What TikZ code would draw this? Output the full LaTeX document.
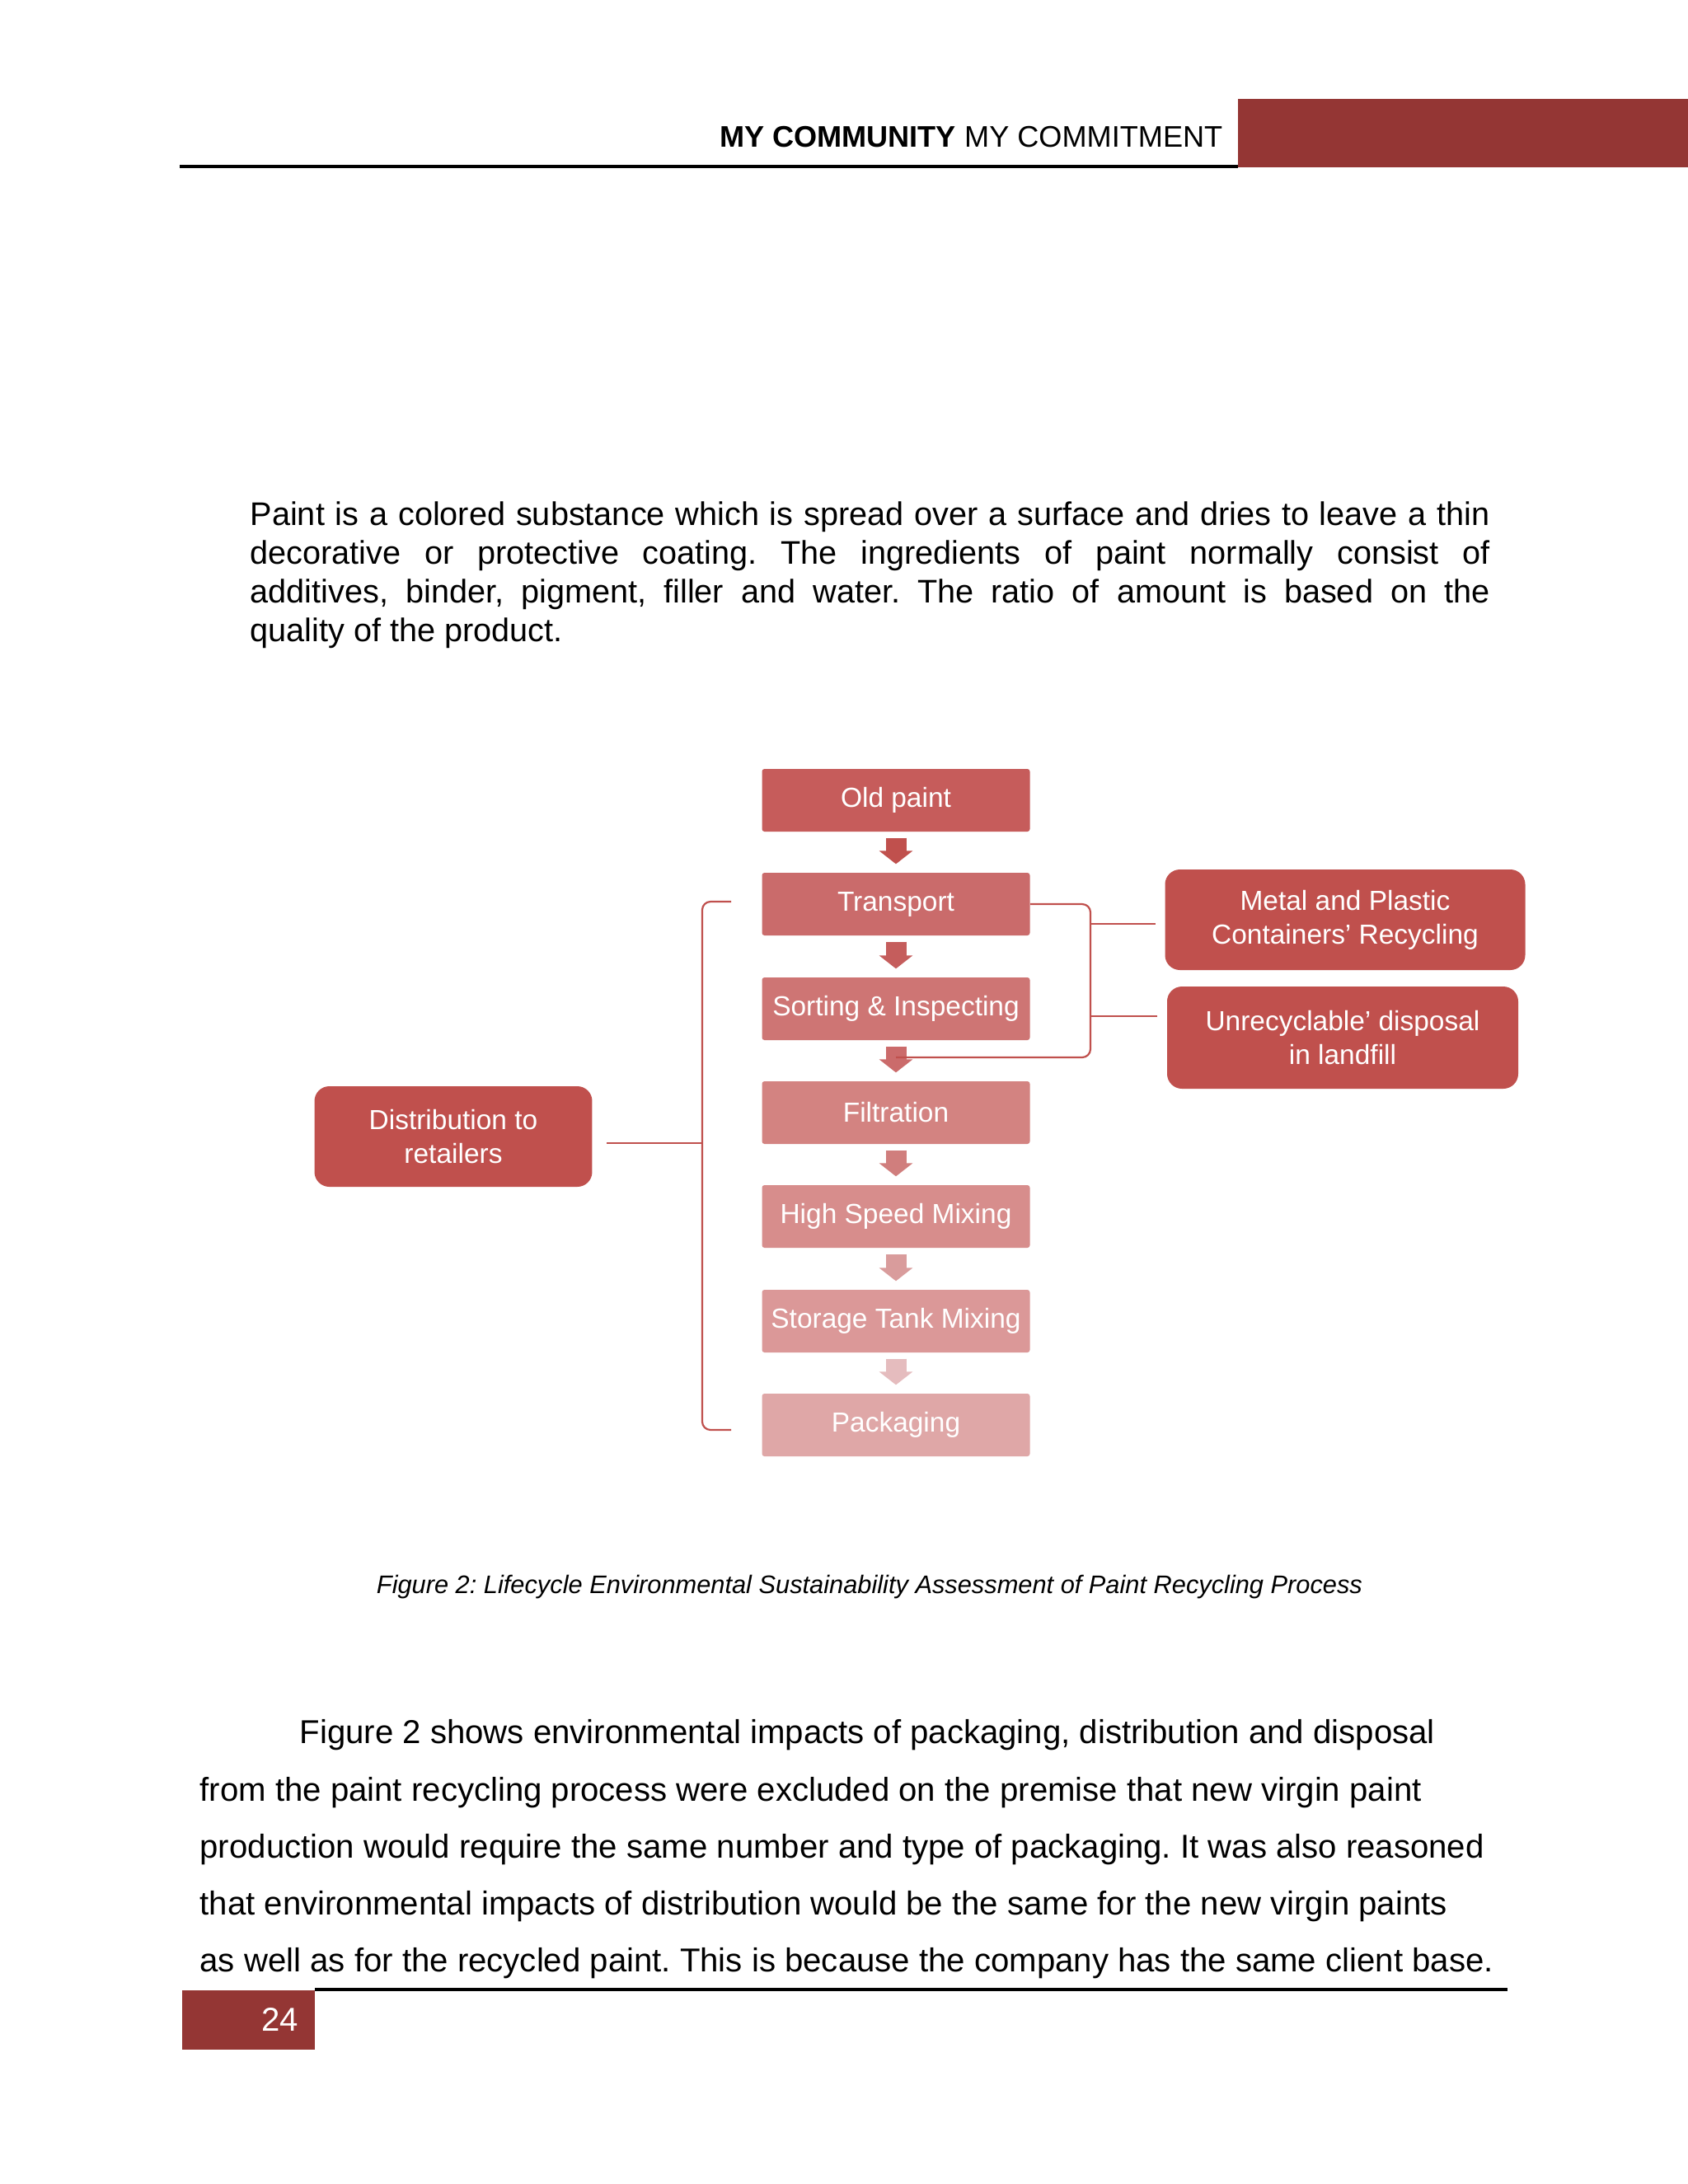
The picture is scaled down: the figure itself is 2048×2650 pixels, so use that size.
\documentclass[tikz,border=0pt]{standalone}
\usepackage{fontspec}
\setmainfont{Liberation Sans}
\usetikzlibrary{calc,arrows.meta}

\definecolor{pagered}{HTML}{943634}
\definecolor{accent}{HTML}{C0504D}
\definecolor{boxA}{HTML}{C65C5B}
\definecolor{boxB}{HTML}{CA6B6B}
\definecolor{boxC}{HTML}{CE7574}
\definecolor{boxD}{HTML}{D38381}
\definecolor{boxE}{HTML}{D78D8C}
\definecolor{boxF}{HTML}{DB9898}
\definecolor{boxG}{HTML}{DFA7A7}
\definecolor{arA}{HTML}{C0504D}
\definecolor{arB}{HTML}{C55D5C}
\definecolor{arC}{HTML}{CB6B6B}
\definecolor{arD}{HTML}{D07E7D}
\definecolor{arE}{HTML}{D99C9C}
\definecolor{arF}{HTML}{E5BCBE}

\tikzset{
	stepbox/.style={fill=#1, text=white, inner sep=0pt, minimum width=97.12pt, minimum height=22.71pt, rounded corners=0.9pt, font=\fontsize{10}{12.2}\selectfont},
	sidebox/.style={fill=accent, text=white, inner sep=0pt, rounded corners=5.4pt, align=center, font=\fontsize{10}{12.2}\selectfont},
	flow/.style={line width=7.47pt, -{Triangle[length=4.78pt,width=11.95pt]}, shorten <=2.09pt, shorten >=2.99pt},
	brace/.style={draw=accent, line width=0.66pt, rounded corners=3pt},
}

\begin{document}
\frenchspacing
\begin{tikzpicture}[x=0.298828pt, y=-0.298828pt]
		\useasboundingbox[fill=white] (0,0) rectangle (2048,2650);
		% page head and foot
		\fill[pagered] (1502,120) rectangle (2048,203);
		\draw[line width=1.05pt] (218,202) -- (1502,202);
		\node[anchor=base east, inner sep=0pt, font=\fontsize{10.8}{13}\selectfont] (title) at (1484,178) {\textbf{MY COMMUNITY} MY COMMITMENT};
		\fill[pagered] (221,2415) rectangle (382,2487);
		\draw[line width=1.05pt] (382,2414) -- (1829,2414);
		\node[anchor=base east, inner sep=0pt, text=white, font=\fontsize{12}{14}\selectfont] (pgno) at (363,2464) {24};

		\node[anchor=north west, inner sep=0pt, text width=449.44pt, align=justify, font=\fontsize{11.85}{14.1}\selectfont] (intro) at (303,608) {\tolerance=10000 \hyphenpenalty=10000 Paint is a colored substance which is spread over a surface and dries to leave a thin\linebreak decorative or protective coating. The ingredients of paint normally consist of\linebreak additives, binder, pigment, filler and water. The ratio of amount is based on the\linebreak quality of the product.};

		% process column
		\node[stepbox=boxA] (old) at (1087,971) {Old paint};
		\node[stepbox=boxB] (trans) at (1087,1097) {Transport};
		\node[stepbox=boxC] (sort) at (1087,1224) {Sorting \& Inspecting};
		\node[stepbox=boxD] (filt) at (1087,1350) {Filtration};
		\node[stepbox=boxE] (mix) at (1087,1476) {High Speed Mixing};
		\node[stepbox=boxF] (tank) at (1087,1603) {Storage Tank Mixing};
		\node[stepbox=boxG] (pack) at (1087,1729) {Packaging};
		\draw[flow, color=arA] (old) -- (trans);
		\draw[flow, color=arB] (trans) -- (sort);
		\draw[flow, color=arC] (sort) -- (filt);
		\draw[flow, color=arD] (filt) -- (mix);
		\draw[flow, color=arE] (mix) -- (tank);
		\draw[flow, color=arF] (tank) -- (pack);

		% side boxes
		\node[sidebox, minimum width=130.59pt, minimum height=36.46pt] (metal) at (1632,1116) {Metal and Plastic\\Containers\textquoteright\ Recycling};
		\node[sidebox, minimum width=127.3pt, minimum height=37.05pt] (unrec) at (1629,1259) {Unrecyclable\textquoteright\ disposal\\in landfill};
		\node[sidebox, minimum width=100.7pt, minimum height=36.46pt] (dist) at (550,1379) {Distribution to\\retailers};

		% brackets
		\coordinate (rtop) at (1323,1097);
		\coordinate (rbot) at (1323,1283);
		\coordinate (rend) at (1087,1283);
		\draw[brace] (trans.east) -- (rtop) -- (rbot) -- (rend);
		\draw[brace] ([xshift=-3.29pt]metal.west |- 0,1121) -- (rtop |- 0,1121);
		\draw[brace] ([xshift=-3.29pt]unrec.west |- 0,1233) -- (rtop |- 0,1233);
		\coordinate (ltop) at (887,1094);
		\coordinate (lbot) at (887,1735);
		\draw[brace] (ltop) -- (852,1094) -- (852,1735) -- (lbot);
		\draw[brace] ([xshift=5.08pt]dist.east |- 0,1387) -- (852,1387);

		\node[font=\fontsize{9.2}{11}\selectfont\itshape] (caption) at (1055,1926) {Figure 2: Lifecycle Environmental Sustainability Assessment of Paint Recycling Process};

		\node[anchor=north west, inner sep=0pt, align=left, font=\fontsize{12}{20.7}\selectfont] (text) at (242,2086) {\hspace*{36.16pt}Figure 2 shows environmental impacts of packaging, distribution and disposal\\from the paint recycling process were excluded on the premise that new virgin paint\\production would require the same number and type of packaging. It was also reasoned\\that environmental impacts of distribution would be the same for the new virgin paints\\as well as for the recycled paint. This is because the company has the same client base.};
	\end{tikzpicture}
\end{document}
